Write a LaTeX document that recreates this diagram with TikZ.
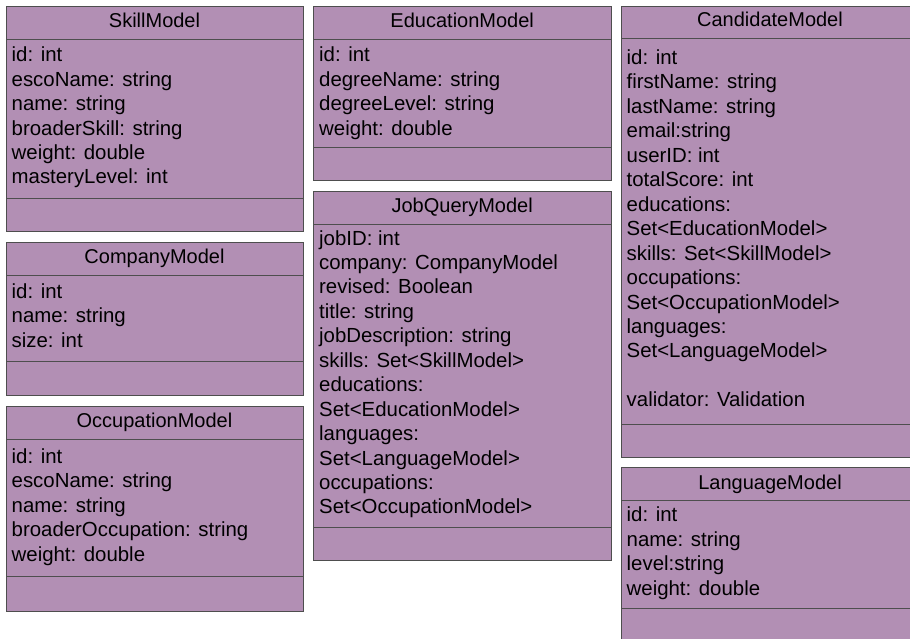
\documentclass[tikz,border=0pt]{standalone}
\usepackage{fontspec}
\setmainfont{Liberation Sans}
\usetikzlibrary{fit}

\definecolor{umlfill}{RGB}{178,143,180}
\definecolor{umlline}{RGB}{78,78,78}

% one compartment of a class box, spanning two corner points
\newcommand{\umlpart}[5]{%
  \node[sect, fit={(#2,#3) (#4,#5)}] (#1) {};}
% the attribute lines of a class, one node per line, on fixed baselines
\newcommand{\umllines}[4]{%
  \foreach \t [count=\i] in {#4} {%
    \node[attr] (#1-\i) at (#2, #3+\i*24.45-24.45) {\t};}}

\begin{document}
\begin{tikzpicture}[x=1pt, y=-1pt,
  sect/.style={draw=umlline, fill=umlfill, line width=0.9pt, inner sep=0pt},
  attr/.style={anchor=base west, inner sep=0pt, text=black,
    font=\fontsize{20.4}{24}\selectfont},
  title/.style={anchor=base, inner sep=0pt, text=black,
    font=\fontsize{20}{24}\selectfont}]
\clip (0,0) rectangle (910,638);
\fill[white] (0,0) rectangle (910,638);

% ---- SkillModel
\umlpart{skill-t}{6}{6}{303}{39}
\umlpart{skill-a}{6}{39}{303}{198.5}
\umlpart{skill-o}{6}{198.5}{303}{231.5}
\node[title] (skill-name) at (154.5,27) {SkillModel};
\umllines{skill}{11.5}{61.7}{id: int, escoName: string, name: string,
  broaderSkill: string, weight: double, masteryLevel: int}

% ---- CompanyModel
\umlpart{company-t}{6}{242}{303}{275}
\umlpart{company-a}{6}{275}{303}{361.5}
\umlpart{company-o}{6}{361.5}{303}{395.5}
\node[title] (company-name) at (154.5,263) {CompanyModel};
\umllines{company}{11.5}{298.3}{id: int, name: string, size: int}

% ---- OccupationModel
\umlpart{occupation-t}{6}{406}{303}{439.5}
\umlpart{occupation-a}{6}{439.5}{303}{576.5}
\umlpart{occupation-o}{6}{576.5}{303}{611.5}
\node[title] (occupation-name) at (154.5,427.5) {OccupationModel};
\umllines{occupation}{11.5}{463.3}{id: int, escoName: string, name: string,
  broaderOccupation: string, weight: double}

% ---- EducationModel
\umlpart{education-t}{313.5}{6}{611}{39}
\umlpart{education-a}{313.5}{39}{611}{147}
\umlpart{education-o}{313.5}{147}{611}{180.5}
\node[title] (education-name) at (462.2,27) {EducationModel};
\umllines{education}{319}{61.7}{id: int, degreeName: string,
  degreeLevel: string, weight: double}

% ---- JobQueryModel
\umlpart{job-t}{313.5}{191}{611}{224}
\umlpart{job-a}{313.5}{224}{611}{527}
\umlpart{job-o}{313.5}{527}{611}{560}
\node[title] (job-name) at (462.2,212) {JobQueryModel};
\umllines{job}{319}{245}{jobID: int, company: CompanyModel,
  revised: Boolean, title: string, jobDescription: string,
  skills: Set<SkillModel>, educations:, Set<EducationModel>,
  languages:, Set<LanguageModel>, occupations:, Set<OccupationModel>}

% ---- CandidateModel
\umlpart{candidate-t}{621}{6}{919}{38.5}
\umlpart{candidate-a}{621}{38.5}{919}{424}
\umlpart{candidate-o}{621}{424}{919}{457.5}
\node[title] (candidate-name) at (770,26.5) {CandidateModel};
\umllines{candidate}{626.5}{64.5}{id: int, firstName: string,
  lastName: string, email:string, userID: int, totalScore: int,
  educations:, Set<EducationModel>, skills: Set<SkillModel>,
  occupations:, Set<OccupationModel>, languages:, Set<LanguageModel>,
  {}, validator: Validation}

% ---- LanguageModel
\umlpart{language-t}{621}{467.5}{919}{500.5}
\umlpart{language-a}{621}{500.5}{919}{608}
\umlpart{language-o}{621}{608}{919}{660}
\node[title] (language-name) at (770,489) {LanguageModel};
\umllines{language}{626.5}{521.7}{id: int, name: string, level:string,
  weight: double}
\end{tikzpicture}
\end{document}
